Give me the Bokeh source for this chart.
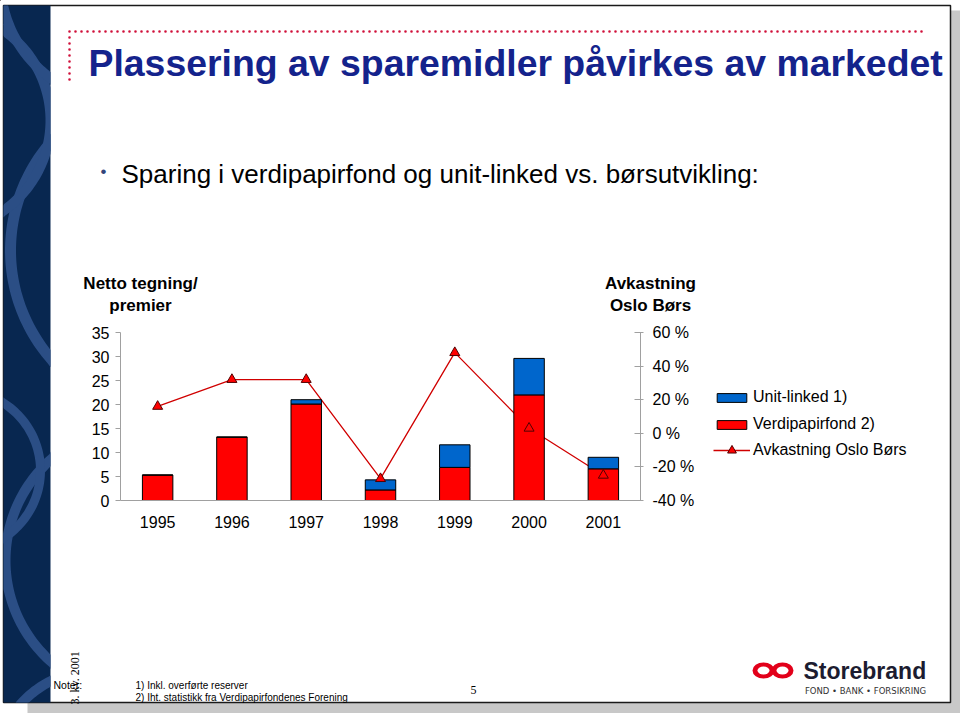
import numpy as np
from bokeh.plotting import figure
from bokeh.models import (ColumnDataSource, Range1d, LinearAxis, FixedTicker, PrintfTickFormatter,
                          Label, Legend, LegendItem, FactorRange)
from bokeh.embed import file_html
from bokeh.resources import INLINE

# ---------------- data ----------------
years = ["1995", "1996", "1997", "1998", "1999", "2000", "2001"]
verdipapirfond = [5.3, 13.2, 20.1, 2.2, 6.9, 22.0, 6.6]   # red part
unit_linked = [0.0, 0.0, 0.9, 2.1, 4.7, 7.6, 2.4]         # blue part
oslo_bors = [16, 32, 32, -27, 48, 3, -25]                 # % (right axis)
left_ticks = [0, 5, 10, 15, 20, 25, 30, 35]
right_ticks = [-40, -20, 0, 20, 40, 60]

# ---------------- page geometry ----------------
W, H = 960, 713
FL, FR, FT, FB = 120, 640, 332, 500     # chart frame edges (page px)
CX0, CX1, CY0, CY1 = 75, 710, 318, 545  # chart figure box (page px)
FONT = "Liberation Sans"
RED, BLUE = "#FF0000", "#0066CC"
NAVY, NAVY_L = "#082750", "#2B4E85"
LINE_C, MK_LINE = "#D00000", "#500000"

# ---------------- page (background slide) ----------------
page = figure(width=W, height=H, x_range=Range1d(0, W), y_range=Range1d(H, 0),
              output_backend="svg", toolbar_location=None, title=None,
              x_axis_type=None, y_axis_type=None, min_border=0,
              outline_line_color=None, background_fill_color="white",
              border_fill_color="white")

# shadow, slide, left band
page.quad(left=[27], right=[960], top=[10], bottom=[713], fill_color="#C8C8C8", line_color=None)
page.quad(left=[3], right=[950], top=[5], bottom=[702], fill_color="white",
          line_color="#1A1A1A", line_width=1.5)
BX0, BX1, BY0, BY1 = 3, 50, 5, 702
page.quad(left=[BX0], right=[BX1], top=[BY0], bottom=[BY1], fill_color=NAVY, line_color=None)
arc_defs = [(175, 250, 165, 11, 110, 250),
            (-60, 120, 110, 10, -70, 70),
            (140, 560, 135, 10, 110, 250),
            (-40, 470, 80, 9, -80, 80),
            (95, 770, 100, 10, 180, 300),
            (120, -20, 120, 10, 90, 200)]
arc_xs, arc_ys = [], []
for cx, cy, r, t, a0, a1 in arc_defs:
    a = np.radians(np.linspace(a0, a1, 90))
    xo = cx + (r + t / 2) * np.cos(a)
    yo = cy + (r + t / 2) * np.sin(a)
    xi = cx + (r - t / 2) * np.cos(a[::-1])
    yi = cy + (r - t / 2) * np.sin(a[::-1])
    arc_xs.append(list(np.clip(np.concatenate([xo, xi]), BX0, BX1)))
    arc_ys.append(list(np.clip(np.concatenate([yo, yi]), BY0, BY1)))
page.patches(xs=arc_xs, ys=arc_ys, fill_color=NAVY_L, line_color=None)

# dotted red corner line
page.multi_line(xs=[[69, 69], [69, 927]], ys=[[79, 31], [31, 31]], line_color="#D0103A",
                line_width=2.6, line_dash="0 6", line_cap="round")


def lab(X, Y, text, size, bold=False, color="black", font=FONT, align="left",
        baseline="middle", angle=0):
    page.add_layout(Label(x=X, y=Y, text=text, text_font=font, text_font_size=f"{size}px",
                          text_font_style="bold" if bold else "normal", text_color=color,
                          text_align=align, text_baseline=baseline, angle=angle,
                          angle_units="deg"))


lab(88, 62, "Plassering av sparemidler påvirkes av markedet", 37.4, bold=True, color="#14238C")
lab(100, 171, "•", 17, color="#33457A")
lab(121, 173, "Sparing i verdipapirfond og unit-linked vs. børsutvikling:", 26)
lab(140, 283, "Netto tegning/", 17, bold=True, align="center")
lab(140, 305, "premier", 17, bold=True, align="center")
lab(650, 283, "Avkastning", 17, bold=True, align="center")
lab(650, 305, "Oslo Børs", 17, bold=True, align="center")

lab(53, 684.5, "Noter:", 10.5)
lab(135, 684.5, "1) Inkl. overførte reserver", 10)
lab(135, 696.5, "2) Iht. statistikk fra Verdipapirfondenes Forening", 10)
lab(470, 689, "5", 12, font="Liberation Serif")
lab(74, 704, "3. kv. 2001", 12, font="Liberation Serif", angle=90)

# Storebrand logo
page.ellipse(x=[763, 782], y=[670, 670], width=22, height=16, fill_color="#E2001A",
             line_color=None)
page.ellipse(x=[763, 782], y=[670, 670], width=12, height=8, fill_color="white",
             line_color=None)
lab(803, 670.5, "Storebrand", 23, bold=True, color="#1C1C30")
lab(865, 690, "FOND • BANK • FORSIKRING", 8.5, color="#333333", font="DejaVu Sans",
    align="center")

# legend (proxy glyphs lie outside the page ranges)
g_ul = page.vbar(x=[-100], top=[-100], bottom=[-90], width=1, fill_color=BLUE,
                 line_color="black", line_width=1)
g_vf = page.vbar(x=[-100], top=[-100], bottom=[-90], width=1, fill_color=RED,
                 line_color="black", line_width=1)
g_ln = page.line(x=[-100, -90], y=[-100, -100], line_color=LINE_C, line_width=1.3)
g_mk = page.scatter(x=[-100], y=[-100], marker="triangle", size=10, fill_color=RED,
                    line_color=MK_LINE, line_width=1)
leg_style = dict(border_line_color=None, background_fill_alpha=0, padding=0, margin=0,
                 spacing=7, glyph_width=37, label_height=20, label_standoff=3,
                 inactive_fill_alpha=0, label_text_font=FONT, label_text_font_size="16px",
                 label_text_color="black")
legend1 = Legend(items=[LegendItem(label="Unit-linked 1)", renderers=[g_ul]),
                        LegendItem(label="Verdipapirfond 2)", renderers=[g_vf])],
                 location=(713, H - 434), glyph_height=11, **leg_style)
legend2 = Legend(items=[LegendItem(label="Avkastning Oslo Børs", renderers=[g_ln, g_mk])],
                 location=(713, H - 461), glyph_height=22, **leg_style)
page.add_layout(legend1)
page.add_layout(legend2)

# ---------------- chart (overlaid) ----------------
src = ColumnDataSource(dict(year=years, verdipapirfond=verdipapirfond,
                            unit_linked=unit_linked, oslo=oslo_bors))

pos_css = {"position": "absolute", "left": f"{CX0}px", "top": f"{CY0}px"}
p = figure(width=CX1 - CX0, height=CY1 - CY0, x_range=FactorRange(*years),
           y_range=Range1d(0, 35), output_backend="svg", toolbar_location=None, title=None,
           min_border_left=FL - CX0, min_border_right=CX1 - FR,
           min_border_top=FT - CY0, min_border_bottom=CY1 - FB,
           outline_line_color=None, background_fill_color=None, border_fill_color=None,
           styles=pos_css,
           stylesheets=[f":host {{ position: absolute !important; left: {CX0}px !important; "
                        f"top: {CY0}px !important; }}"])
p.xgrid.visible = False
p.ygrid.visible = False
p.extra_y_ranges = {"pct": Range1d(-40, 60)}

AX = "#A0A0A0"
ya = p.yaxis[0]
ya.ticker = FixedTicker(ticks=left_ticks)
ya.axis_line_color = AX
ya.major_tick_line_color = AX
ya.major_tick_out = 5
ya.major_tick_in = 0
ya.minor_tick_line_color = None
ya.major_label_standoff = 6
ya.major_label_text_font = FONT
ya.major_label_text_font_size = "16px"
ya.major_label_text_color = "black"

xa = p.xaxis[0]
xa.axis_line_color = AX
xa.major_tick_line_color = None
xa.major_tick_out = 0
xa.major_tick_in = 0
xa.major_label_standoff = 15
xa.major_label_text_font = FONT
xa.major_label_text_font_size = "16px"
xa.major_label_text_color = "black"

ra = LinearAxis(y_range_name="pct", ticker=FixedTicker(ticks=right_ticks),
                formatter=PrintfTickFormatter(format="%d %%"))
ra.axis_line_color = AX
ra.major_tick_line_color = AX
ra.major_tick_out = 3
ra.major_tick_in = 6
ra.minor_tick_line_color = None
ra.major_label_standoff = 9
ra.major_label_text_font = FONT
ra.major_label_text_font_size = "16px"
ra.major_label_text_color = "black"
p.add_layout(ra, "right")

p.line(x="year", y="oslo", source=src, y_range_name="pct", line_color=LINE_C, line_width=1.3)
p.vbar_stack(["verdipapirfond", "unit_linked"], x="year", width=0.41, source=src,
             fill_color=[RED, BLUE], line_color="black", line_width=1)
p.scatter(x="year", y="oslo", source=src, y_range_name="pct", marker="triangle",
          size=10, fill_color=RED, line_color=MK_LINE, line_width=1)

open("out.html", "w").write(file_html([page, p], INLINE))
